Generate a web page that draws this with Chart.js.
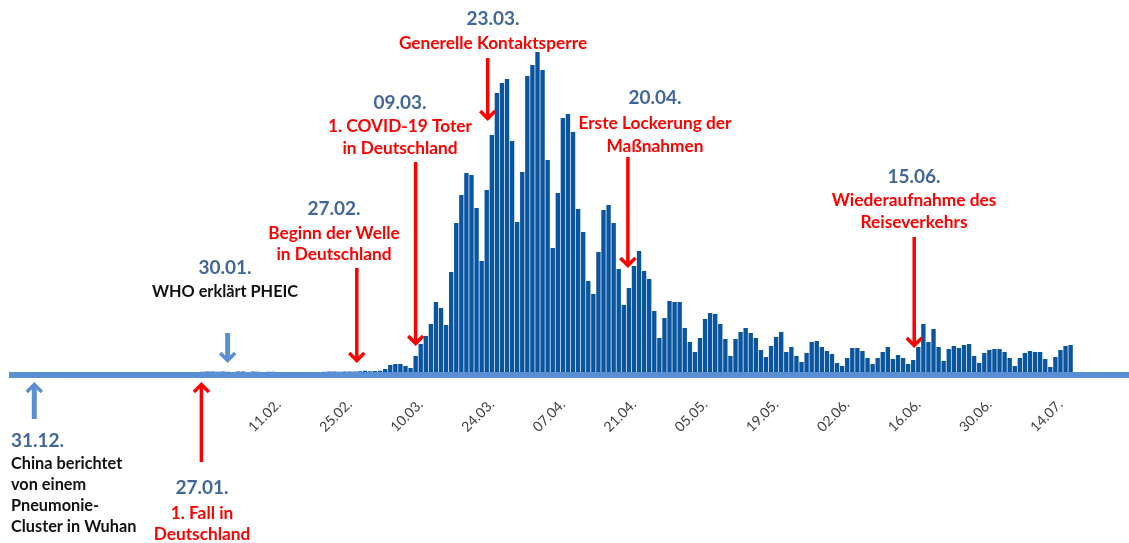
<!DOCTYPE html>
<html>
<head>
<meta charset="utf-8">
<script src="https://cdn.jsdelivr.net/npm/chart.js@4"></script>
<style>
  html, body { margin: 0; padding: 0; background: #fff; }
</style>
</head>
<body>
<canvas id="chart" width="1129" height="543"></canvas>
<script>
// Kategorienachse: ein Balken pro Tag
const axisStart = new Date(2019, 11, 21);
const axisEnd = new Date(2020, 6, 27);
const dataStart = '27.01.';

// Neue Fälle pro Tag ab 27.01. (aus dem Bild geschätzt)
const neueFaelle = [
  5, 10, 10, 5, 10, 5, 0, 10, 10, 0, 10, 5, 0, 5, 5,            // 27.01. - 10.02.
  0, 0, 0, 0, 0, 0, 0, 0, 0, 5, 10, 10, 5, 10, 10, 10, 15,      // 11.02. - 27.02.
  25, 15, 20, 25, 60, 140, 160, 160, 120, 80,                   // 28.02. - 08.03.
  320, 560, 720, 960, 1400, 1280, 940, 2000, 2980, 3540, 3980,  // 09.03. - 19.03.
  3940, 3280, 2220, 3640, 4740, 5580, 5780, 5860, 4620, 3000,   // 20.03. - 29.03.
  4000, 5920, 6140, 6400, 6040, 4240, 2480, 3580, 5080, 5160,   // 30.03. - 08.04.
  4800, 3260, 2800, 1820, 1560, 2400, 3240, 3340, 2980, 2060,   // 09.04. - 18.04.
  1340, 1680, 2120, 2420, 2020, 1860, 1220, 680, 1080, 1420,    // 19.04. - 28.04.
  1400, 1400, 880, 600, 400, 680, 1060, 1180, 1160, 960,        // 29.04. - 08.05.
  660, 320, 660, 800, 880, 780, 680, 440, 300, 520,             // 09.05. - 18.05.
  700, 800, 400, 500, 320, 200, 380, 600, 620, 500,             // 19.05. - 28.05.
  420, 360, 180, 120, 280, 480, 480, 420, 280, 160,             // 29.05. - 07.06.
  280, 400, 500, 260, 340, 280, 160, 240, 500, 960,             // 08.06. - 17.06.
  600, 860, 500, 220, 460, 520, 480, 540, 560, 320,             // 18.06. - 27.06.
  180, 380, 440, 460, 460, 400, 280, 120, 280, 380,             // 28.06. - 07.07.
  420, 400, 400, 260, 100, 300, 440, 520, 540                   // 08.07. - 16.07.
];

const tickLabels = ['11.02.', '25.02.', '10.03.', '24.03.', '07.04.', '21.04.',
  '05.05.', '19.05.', '02.06.', '16.06.', '30.06.', '14.07.'];

const ROT = '#ff0000';
const BLAU = '#5b8fd3';
const DATUMBLAU = '#41669b';

// Ereignisse mit Pfeil auf das jeweilige Datum
const ereignisse = [
  { datum: '31.12.', dx: -31, farbe: BLAU, schaft: 5, von: 419, bis: 383,
    textX: 11, align: 'left', titelY: 441, zeilenY: 464, abstand: 21,
    textFarbe: '#111', zeilen: ['China berichtet', 'von einem', 'Pneumonie-', 'Cluster in Wuhan'] },
  { datum: '27.01.', dx: -1, farbe: ROT, schaft: 3.5, von: 462, bis: 383,
    textX: 202, align: 'center', titelY: 488, zeilenY: 513, abstand: 21,
    textFarbe: ROT, zeilen: ['1. Fall in', 'Deutschland'] },
  { datum: '30.01.', dx: 10, farbe: BLAU, schaft: 5, von: 333, bis: 362,
    textX: 225, align: 'center', titelY: 268, zeilenY: 292, abstand: 21,
    textFarbe: '#111', zeilen: ['WHO erklärt PHEIC'] },
  { datum: '27.02.', dx: -3, farbe: ROT, schaft: 3.5, von: 268, bis: 362,
    textX: 334, align: 'center', titelY: 209, zeilenY: 233, abstand: 21,
    textFarbe: ROT, zeilen: ['Beginn der Welle', 'in Deutschland'] },
  { datum: '09.03.', dx: 0, farbe: ROT, schaft: 3.5, von: 162, bis: 345,
    textX: 400, align: 'center', titelY: 103, zeilenY: 126, abstand: 22,
    textFarbe: ROT, zeilen: ['1. COVID-19 Toter', 'in Deutschland'] },
  { datum: '23.03.', dx: 1, farbe: ROT, schaft: 3.5, von: 58, bis: 120,
    textX: 493, align: 'center', titelY: 19, zeilenY: 43, abstand: 22,
    textFarbe: ROT, zeilen: ['Generelle Kontaktsperre'] },
  { datum: '20.04.', dx: -1, farbe: ROT, schaft: 3.5, von: 157, bis: 267,
    textX: 655, align: 'center', titelY: 98, zeilenY: 123, abstand: 23,
    textFarbe: ROT, zeilen: ['Erste Lockerung der', 'Maßnahmen'] },
  { datum: '15.06.', dx: 1, farbe: ROT, schaft: 3.5, von: 237, bis: 347,
    textX: 914, align: 'center', titelY: 177, zeilenY: 200, abstand: 22,
    textFarbe: ROT, zeilen: ['Wiederaufnahme des', 'Reiseverkehrs'] }
];

// Tage als Kategorien
const labels = [];
for (let d = new Date(axisStart); d <= axisEnd; d.setDate(d.getDate() + 1)) {
  labels.push(String(d.getDate()).padStart(2, '0') + '.' + String(d.getMonth() + 1).padStart(2, '0') + '.');
}
const offset = labels.indexOf(dataStart);
const werte = labels.map((l, i) => {
  const k = i - offset;
  return k >= 0 && k < neueFaelle.length ? neueFaelle[k] : null;
});

function pfeil(ctx, x, von, bis, farbe, schaft) {
  const dir = bis > von ? 1 : -1;
  ctx.save();
  ctx.strokeStyle = farbe;
  ctx.lineWidth = schaft;
  ctx.beginPath();
  ctx.moveTo(x, von);
  ctx.lineTo(x, bis - dir * 2);
  ctx.stroke();
  ctx.lineWidth = 3.5;
  ctx.lineJoin = 'miter';
  ctx.beginPath();
  ctx.moveTo(x - 7.5, bis - dir * 9);
  ctx.lineTo(x, bis - dir * 1.5);
  ctx.lineTo(x + 7.5, bis - dir * 9);
  ctx.stroke();
  ctx.restore();
}

const ereignisPlugin = {
  id: 'ereignisse',
  afterDraw(chart) {
    const ctx = chart.ctx;
    const xs = chart.scales.x;
    ereignisse.forEach(e => {
      const x = xs.getPixelForValue(labels.indexOf(e.datum)) + e.dx;
      pfeil(ctx, x, e.von, e.bis, e.farbe, e.schaft);
      ctx.save();
      ctx.textAlign = e.align;
      ctx.textBaseline = 'middle';
      ctx.fillStyle = DATUMBLAU;
      ctx.font = 'bold 19px Lato';
      ctx.fillText(e.datum, e.textX, e.titelY);
      ctx.fillStyle = e.textFarbe;
      // rote Texte etwas breiter als die schwarzen
      ctx.font = e.textFarbe === ROT ? 'bold 17.3px Lato' : 'bold 16.3px Lato';
      e.zeilen.forEach((z, i) => ctx.fillText(z, e.textX, e.zeilenY + i * e.abstand));
      ctx.restore();
    });
  }
};

const ctx = document.getElementById('chart').getContext('2d');
new Chart(ctx, {
  type: 'bar',
  data: {
    labels: labels,
    datasets: [{
      label: 'Neue Fälle',
      data: werte,
      backgroundColor: '#0a55a0',
      barPercentage: 0.86,
      categoryPercentage: 1
    }]
  },
  options: {
    responsive: false,
    animation: false,
    layout: { padding: { left: 12, right: 0, top: 0, bottom: 0 } },
    plugins: { legend: { display: false }, tooltip: { enabled: false } },
    scales: {
      x: {
        grid: { display: false },
        border: { display: true, color: BLAU, width: 6 },
        ticks: {
          autoSkip: false,
          minRotation: 45,
          maxRotation: 45,
          padding: 13,
          color: '#404040',
          font: { family: 'Lato', size: 14 },
          callback: function (v) {
            const l = labels[v];
            return tickLabels.includes(l) ? l : null;
          }
        },
        afterFit: function (scale) { scale.height = 168; }
      },
      y: {
        display: false,
        min: -60,
        max: 7440
      }
    }
  },
  plugins: [ereignisPlugin]
});
</script>
</body>
</html>
